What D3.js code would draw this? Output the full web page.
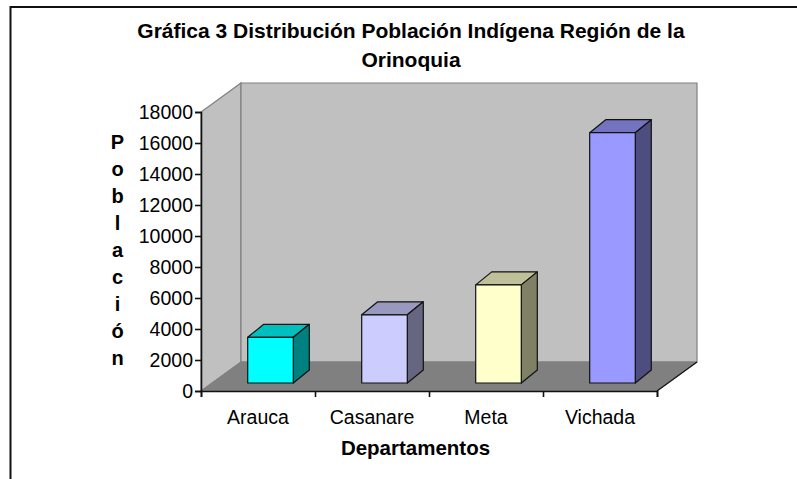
<!DOCTYPE html>
<html>
<head>
<meta charset="utf-8">
<script src="https://cdnjs.cloudflare.com/ajax/libs/d3/7.8.5/d3.min.js"></script>
<style>
html, body { margin: 0; padding: 0; background: #fff; }
svg { display: block; }
text { font-family: "Liberation Sans", Arial, sans-serif; fill: #000; }
.axis path, .axis line { stroke: #111; stroke-width: 1.6px; }
.axis text { font-size: 19.5px; }
</style>
</head>
<body>
<svg width="797" height="479"></svg>
<script>
var categories = ["Arauca", "Casanare", "Meta", "Vichada"];
var values = [2950, 4400, 6330, 16150];
var yTicks = [0, 2000, 4000, 6000, 8000, 10000, 12000, 14000, 16000, 18000];
var frontColors = ["#00ffff", "#ccccff", "#ffffcc", "#9999ff"];
var titleLines = ["Gráfica 3 Distribución Población Indígena Región de la", "Orinoquia"];
var yTitle = "Población".split("");
var xTitle = "Departamentos";

var svg = d3.select("svg");

// depth of the fake 3d box
var dx = 40, dy = -29;

var x = d3.scaleBand().domain(categories).range([201, 657]).paddingInner(0.6).paddingOuter(0.3);
var y = d3.scaleLinear().domain([0, 18000]).range([391, 112]);

// outer frame, only top and left show in the picture
svg.append("path")
    .attr("d", "M10.5,479V7H797")
    .attr("fill", "none")
    .attr("stroke", "#111")
    .attr("stroke-width", 2);

var x0 = x.range()[0], x1 = x.range()[1], y0 = y(0), yTop = y(18000);

function poly(pts) { return "M" + pts.map(function(p) { return p.join(","); }).join("L") + "Z"; }

function shade(c, k) {
    var r = d3.rgb(c);
    return d3.rgb(r.r * k, r.g * k, r.b * k).formatHex();
}

// side wall
svg.append("path")
    .attr("d", poly([[x0, y0], [x0, yTop], [x0 + dx, yTop + dy], [x0 + dx, y0 + dy]]))
    .attr("fill", "#c0c0c0").attr("stroke", "#808080").attr("stroke-width", 1.2);
// back wall
svg.append("path")
    .attr("d", poly([[x0 + dx, y0 + dy], [x0 + dx, yTop + dy], [x1 + dx, yTop + dy], [x1 + dx, y0 + dy]]))
    .attr("fill", "#c0c0c0").attr("stroke", "#808080").attr("stroke-width", 1.2);
// floor
svg.append("path")
    .attr("d", poly([[x0, y0], [x0 + dx, y0 + dy], [x1 + dx, y0 + dy], [x1, y0]]))
    .attr("fill", "#808080").attr("stroke", "#808080").attr("stroke-width", 1);
svg.append("line")
    .attr("x1", x1).attr("y1", y0).attr("x2", x1 + dx).attr("y2", y0 + dy)
    .attr("stroke", "#111").attr("stroke-width", 1.2);

// axes
var yAxis = d3.axisLeft(y).tickValues(yTicks).tickSize(6).tickPadding(2).tickFormat(d3.format("d"));
svg.append("g").attr("class", "axis").attr("transform", "translate(" + x0 + ",0)").call(yAxis);

var tickScale = d3.scalePoint().domain(d3.range(categories.length + 1)).range([x0, x1]);
var xAxis = d3.axisBottom(tickScale).tickSize(6).tickFormat("");
svg.append("g").attr("class", "axis").attr("transform", "translate(0," + y0 + ")").call(xAxis);

// category labels centred in each slot
svg.selectAll(".cat").data(categories).enter().append("text")
    .attr("class", "cat")
    .attr("x", function(d, i) { return (tickScale(i) + tickScale(i + 1)) / 2; })
    .attr("y", 424)
    .attr("text-anchor", "middle")
    .attr("font-size", 19.5)
    .text(function(d) { return d; });

// bars
var shiftX = 12.5, shiftY = -8, bx = 16, by = -13;
var bar = svg.selectAll(".bar").data(categories).enter().append("g").attr("class", "bar");

function barPts(d, i) {
    var l = x(d) + shiftX, r = l + x.bandwidth(), b = y0 + shiftY, t = y(values[i]) + shiftY;
    return { l: l, r: r, b: b, t: t };
}

bar.append("path")
    .attr("d", function(d, i) {
        var p = barPts(d, i);
        return poly([[p.l, p.t], [p.l + bx, p.t + by], [p.r + bx, p.t + by], [p.r, p.t]]);
    })
    .attr("fill", function(d, i) { return shade(frontColors[i], 0.75); });

bar.append("path")
    .attr("d", function(d, i) {
        var p = barPts(d, i);
        return poly([[p.r, p.t], [p.r + bx, p.t + by], [p.r + bx, p.b + by], [p.r, p.b]]);
    })
    .attr("fill", function(d, i) { return shade(frontColors[i], 0.5); });

bar.append("rect")
    .attr("x", function(d, i) { return barPts(d, i).l; })
    .attr("y", function(d, i) { return barPts(d, i).t; })
    .attr("width", x.bandwidth())
    .attr("height", function(d, i) { var p = barPts(d, i); return p.b - p.t; })
    .attr("fill", function(d, i) { return frontColors[i]; });

bar.selectAll("path, rect").attr("stroke", "#111").attr("stroke-width", 1.2).attr("stroke-linejoin", "round");

// titles
svg.selectAll(".title").data(titleLines).enter().append("text")
    .attr("class", "title")
    .attr("x", 411)
    .attr("y", function(d, i) { return 38 + i * 29; })
    .attr("text-anchor", "middle")
    .attr("font-size", 21)
    .attr("font-weight", "bold")
    .text(function(d) { return d; });

svg.append("text")
    .attr("x", 415.5).attr("y", 455)
    .attr("text-anchor", "middle")
    .attr("font-size", 20.5)
    .attr("font-weight", "bold")
    .text(xTitle);

svg.selectAll(".ytitle").data(yTitle).enter().append("text")
    .attr("class", "ytitle")
    .attr("x", 117.5)
    .attr("y", function(d, i) { return 149 + i * 27; })
    .attr("text-anchor", "middle")
    .attr("font-size", 20)
    .attr("font-weight", "bold")
    .text(function(d) { return d; });
</script>
</body>
</html>
